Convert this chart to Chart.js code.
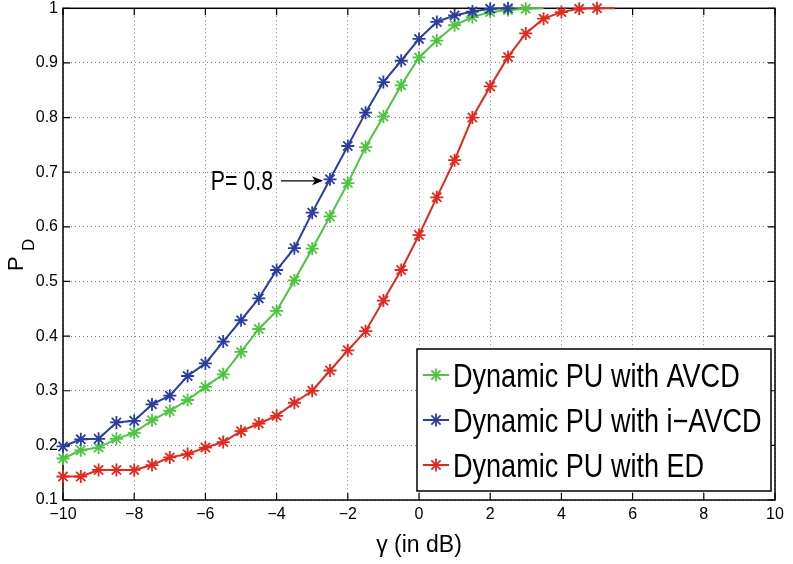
<!DOCTYPE html>
<html>
<head>
<meta charset="utf-8">
<script src="https://cdn.jsdelivr.net/npm/chart.js@4.4.1/dist/chart.umd.min.js"></script>
<style>
  html, body { margin: 0; padding: 0; background: #fff; }
  #wrap { width: 793px; height: 564px; position: relative; }
</style>
</head>
<body>
<div id="wrap"><canvas id="c"></canvas></div>
<script>
// SNR grid (dB) shared by all curves
const gammaDb = [-10, -9.5, -9, -8.5, -8, -7.5, -7, -6.5, -6, -5.5, -5, -4.5, -4, -3.5, -3, -2.5,
                 -2, -1.5, -1, -0.5, 0, 0.5, 1, 1.5, 2, 2.5, 3, 3.5, 4, 4.5, 5, 5.5];

// Detection probability P_D per scheme
const pdAvcd  = [0.176, 0.191, 0.196, 0.212, 0.223, 0.246, 0.263, 0.283, 0.307, 0.330, 0.371, 0.413,
                 0.446, 0.502, 0.560, 0.619, 0.680, 0.746, 0.802, 0.859, 0.910, 0.941, 0.969, 0.984,
                 0.993, 0.997, 0.999, 1.0];
const pdIAvcd = [0.198, 0.211, 0.212, 0.242, 0.245, 0.275, 0.291, 0.327, 0.350, 0.390, 0.429, 0.469,
                 0.521, 0.561, 0.626, 0.687, 0.748, 0.809, 0.865, 0.904, 0.944, 0.975, 0.987, 0.994,
                 0.999, 1.0];
const pdEd    = [0.143, 0.143, 0.155, 0.155, 0.155, 0.164, 0.178, 0.184, 0.196, 0.206, 0.226, 0.240,
                 0.254, 0.278, 0.300, 0.337, 0.374, 0.409, 0.465, 0.521, 0.585, 0.654, 0.722, 0.800,
                 0.857, 0.911, 0.954, 0.981, 0.993, 0.999, 1.0, 1.0];

// number of leading samples that carry a marker
const markedAvcd = 27, markedIAvcd = 26, markedEd = 31;

const seriesLabels = ['Dynamic PU with AVCD', 'Dynamic PU with i\u2212AVCD', 'Dynamic PU with ED'];
const xTickValues = [-10, -8, -6, -4, -2, 0, 2, 4, 6, 8, 10];
const yTickValues = [0.1, 0.2, 0.3, 0.4, 0.5, 0.6, 0.7, 0.8, 0.9, 1];
const annotationText = 'P= 0.8';
const annotationGamma = -2.5;   // marker on the i-AVCD curve the arrow points to

const SANS = "'Liberation Sans', Arial, Helvetica, sans-serif";
const GREEN = '#4ec441', BLUE = '#2b3e9e', RED = '#e2291f';

const toPoints = vals => vals.map((v, i) => ({ x: gammaDb[i], y: v }));

function makeSeries(label, vals, color, marked, order) {
  return {
    label,
    order,
    data: toPoints(vals),
    borderColor: color,
    backgroundColor: color,
    borderWidth: 2,
    pointStyle: 'star',
    pointRadius: ctx => (ctx.dataIndex < marked ? 6.5 : 0),
    pointBorderWidth: 1.8,
    pointBorderColor: color,
    pointHoverRadius: 0,
    tension: 0,
    clip: false
  };
}

// condensed text: draw horizontally squeezed like a narrow face
function narrowText(ctx, text, x, y, sx, align) {
  ctx.save();
  ctx.translate(x, y);
  ctx.scale(sx, 1);
  ctx.textAlign = align;
  ctx.textBaseline = 'alphabetic';
  ctx.fillText(text, 0, 0);
  ctx.restore();
}

const axesDecor = {
  id: 'axesDecor',
  beforeDatasetsDraw(chart) {
    const { ctx, chartArea: a, scales: { x, y } } = chart;
    ctx.save();
    ctx.strokeStyle = '#000';
    ctx.lineWidth = 1.5;
    ctx.strokeRect(a.left, a.top, a.right - a.left, a.bottom - a.top);
    ctx.lineWidth = 1.2;
    const tl = 7;
    ctx.beginPath();
    xTickValues.forEach(v => {
      const px = x.getPixelForValue(v);
      ctx.moveTo(px, a.bottom); ctx.lineTo(px, a.bottom - tl);
      ctx.moveTo(px, a.top); ctx.lineTo(px, a.top + tl);
    });
    yTickValues.forEach(v => {
      const py = y.getPixelForValue(v);
      ctx.moveTo(a.left, py); ctx.lineTo(a.left + tl, py);
      ctx.moveTo(a.right, py); ctx.lineTo(a.right - tl, py);
    });
    ctx.stroke();
    ctx.restore();
  },
  afterDraw(chart) {
    const { ctx, chartArea: a, scales: { x, y } } = chart;

    // y-axis title: P with subscript D, rotated
    ctx.save();
    ctx.fillStyle = '#000';
    ctx.translate(23, 271);
    ctx.rotate(-Math.PI / 2);
    ctx.textBaseline = 'alphabetic';
    ctx.textAlign = 'left';
    ctx.font = '22px ' + SANS;
    ctx.fillText('P', 0, 0);
    ctx.font = '17px ' + SANS;
    ctx.fillText('D', 20, 11);
    ctx.restore();

    // annotation with arrow onto the i-AVCD marker
    ctx.save();
    const idx = gammaDb.indexOf(annotationGamma);
    const tipX = x.getPixelForValue(annotationGamma) - 7;
    const tipY = y.getPixelForValue(pdIAvcd[idx]) + 1.5;
    ctx.strokeStyle = '#000';
    ctx.fillStyle = '#000';
    ctx.lineWidth = 1.3;
    ctx.beginPath();
    ctx.moveTo(tipX - 42, tipY);
    ctx.lineTo(tipX - 8, tipY);
    ctx.stroke();
    ctx.beginPath();
    ctx.moveTo(tipX, tipY);
    ctx.lineTo(tipX - 11, tipY - 4.5);
    ctx.lineTo(tipX - 8, tipY);
    ctx.lineTo(tipX - 11, tipY + 4.5);
    ctx.closePath();
    ctx.fill();
    ctx.font = '27px ' + SANS;
    narrowText(ctx, annotationText, tipX - 50, tipY + 9.5, 0.79, 'right');
    ctx.restore();

    // legend box in the lower right corner of the axes
    ctx.save();
    const bx1 = a.right - 4, by1 = a.bottom - 9;
    const bx0 = bx1 - 354, by0 = by1 - 142;
    ctx.fillStyle = '#fff';
    ctx.fillRect(bx0, by0, bx1 - bx0, by1 - by0);
    ctx.strokeStyle = '#000';
    ctx.lineWidth = 1.5;
    ctx.strokeRect(bx0, by0, bx1 - bx0, by1 - by0);
    ctx.font = '33px ' + SANS;
    chart.data.datasets.forEach((ds, i) => {
      const cy = by0 + 26 + i * 45;
      const lx0 = bx0 + 6, lx1 = bx0 + 32;
      ctx.strokeStyle = ds.borderColor;
      ctx.lineWidth = 2;
      ctx.beginPath();
      ctx.moveTo(lx0, cy); ctx.lineTo(lx1, cy);
      ctx.stroke();
      ctx.lineWidth = 1.8;
      Chart.helpers.drawPoint(ctx, { pointStyle: 'star', radius: 6.5, borderWidth: 1.8 }, (lx0 + lx1) / 2, cy);
      ctx.fillStyle = '#000';
      narrowText(ctx, ds.label, bx0 + 36, cy + 12, 0.82, 'left');
    });
    ctx.restore();
  }
};

const tickFont = { family: SANS, size: 16 };

new Chart(document.getElementById('c'), {
  type: 'line',
  data: {
    datasets: [
      makeSeries(seriesLabels[0], pdAvcd, GREEN, markedAvcd, 3),
      makeSeries(seriesLabels[1], pdIAvcd, BLUE, markedIAvcd, 2),
      makeSeries(seriesLabels[2], pdEd, RED, markedEd, 1)
    ]
  },
  options: {
    responsive: true,
    maintainAspectRatio: false,
    animation: false,
    events: [],
    layout: { padding: { top: 8, right: 18, left: 0, bottom: 0 } },
    plugins: { legend: { display: false }, tooltip: { enabled: false } },
    scales: {
      x: {
        type: 'linear',
        min: -10, max: 10,
        afterBuildTicks: s => { s.ticks = xTickValues.map(v => ({ value: v })); },
        afterFit: s => { s.height = 64; s.paddingLeft = 0; s.paddingRight = 0; },
        ticks: {
          font: tickFont, color: '#000', padding: 5, maxRotation: 0,
          callback: v => String(v).replace('-', '\u2212')
        },
        grid: { color: 'rgba(0,0,0,0.5)', lineWidth: 1, drawTicks: false },
        border: { display: false, dash: [1, 3] },
        title: {
          display: true, text: '\u03b3 (in dB)', color: '#000',
          font: { family: SANS, size: 23 }, padding: { top: 0, bottom: 5 }
        }
      },
      y: {
        type: 'linear',
        min: 0.1, max: 1,
        afterBuildTicks: s => { s.ticks = yTickValues.map(v => ({ value: v })); },
        afterFit: s => { s.width = 63; s.paddingTop = 0; s.paddingBottom = 0; },
        ticks: {
          font: tickFont, color: '#000', padding: 5,
          callback: v => (v === 1 ? '1' : v.toFixed(1))
        },
        grid: { color: 'rgba(0,0,0,0.5)', lineWidth: 1, drawTicks: false },
        border: { display: false, dash: [1, 3] }
      }
    }
  },
  plugins: [axesDecor]
});
</script>
</body>
</html>
